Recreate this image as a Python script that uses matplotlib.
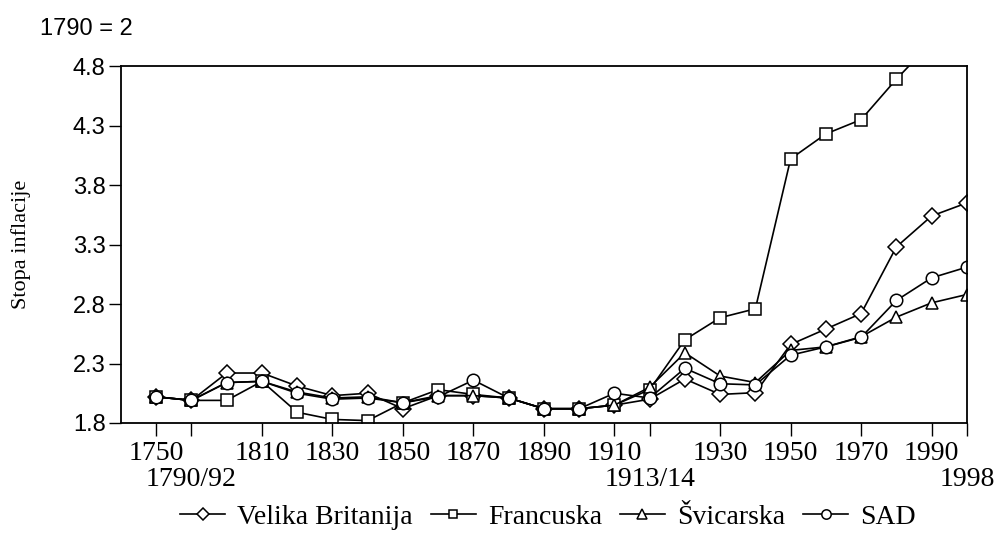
import matplotlib
matplotlib.use("Agg")
import matplotlib.pyplot as plt
import matplotlib.transforms as mtransforms
import numpy as np

periods = ["1750", "1790/92", "1800", "1810", "1820", "1830", "1840", "1850",
           "1860", "1870", "1880", "1890", "1900", "1910", "1913/14", "1920",
           "1930", "1940", "1950", "1960", "1970", "1980", "1990", "1998"]

velika_britanija = [2.02, 1.99, 2.22, 2.22, 2.11, 2.03, 2.05, 1.92, 2.03, 2.03, 2.01, 1.92,
                    1.92, 1.95, 2.00, 2.17, 2.04, 2.055, 2.46, 2.59, 2.72, 3.28, 3.54, 3.65]
francuska = [2.02, 1.99, 1.99, 2.15, 1.89, 1.83, 1.82, 1.97, 2.08, 2.04, 2.01, 1.92,
             1.92, 1.95, 2.08, 2.50, 2.685, 2.76, 4.02, 4.23, 4.35, 4.69, 5.0, 5.3]
svicarska = [2.02, 1.99, 2.14, 2.15, 2.06, 2.01, 2.02, 1.97, 2.03, 2.03, 2.01, 1.92,
             1.92, 1.95, 2.10, 2.39, 2.195, 2.14, 2.41, 2.44, 2.525, 2.69, 2.81, 2.88]
sad = [2.02, 1.99, 2.14, 2.15, 2.05, 2.00, 2.01, 1.97, 2.02, 2.16, 2.01, 1.92,
       1.92, 2.05, 2.01, 2.26, 2.13, 2.12, 2.37, 2.44, 2.52, 2.83, 3.02, 3.11]

series_names = ["Velika Britanija", "Francuska", "Švicarska", "SAD"]
yticks = [1.8, 2.3, 2.8, 3.3, 3.8, 4.3, 4.8]
first_row = ["1750", "1810", "1830", "1850", "1870", "1890", "1910",
             "1930", "1950", "1970", "1990"]
second_row = ["1790/92", "1913/14", "1998"]

serif = ["Liberation Serif", "DejaVu Serif"]
sans = ["Liberation Sans", "DejaVu Sans"]

fig = plt.figure(figsize=(10.04, 5.33), dpi=100)
ax = fig.add_axes([0.1205, 0.2064, 0.8425, 0.6696])

x = np.arange(len(periods))
markers = ["D", "s", "^", "o"]
msizes = [8, 8, 9, 9]
for vals, m, ms, name in zip([velika_britanija, francuska, svicarska, sad], markers, msizes, series_names):
    ax.plot(x, vals, color="black", linewidth=1.2, marker=m, markersize=ms,
            markerfacecolor="white", markeredgecolor="black", markeredgewidth=1.1,
            label=name)

ax.set_xlim(-1, len(periods) - 1)
ax.set_ylim(1.8, 4.8)
ax.set_yticks(yticks)
ax.set_yticklabels([f"{v:.1f}" for v in yticks], fontfamily=sans, fontsize=17)

tick_periods = first_row + second_row
tpos = sorted(periods.index(p) for p in tick_periods)
ax.set_xticks(tpos)
ax.set_xticklabels([])
ax.tick_params(axis="both", direction="out", length=9, width=1.0, color="black")
ax.tick_params(axis="y", pad=2)
for s in ax.spines.values():
    s.set_linewidth(1.3)
    s.set_color("black")

trans = mtransforms.blended_transform_factory(ax.transData, ax.transAxes)
for p in first_row:
    ax.text(periods.index(p), -0.1036, p, transform=trans, ha="center", va="baseline",
            fontfamily=serif, fontsize=20)
for p in second_row:
    ax.text(periods.index(p), -0.1765, p, transform=trans, ha="center", va="baseline",
            fontfamily=serif, fontsize=20)

fig.text(0.021, 0.541, "Stopa inflacije", rotation=90, ha="center", va="center",
         fontfamily=serif, fontsize=16)
fig.text(0.1325, 0.934, "1790 = 2", fontfamily=sans, fontsize=17, ha="right", va="baseline")

leg = fig.legend(loc="center", bbox_to_anchor=(0.546, 0.03), ncol=4, frameon=False,
                 prop={"family": serif, "size": 20}, handlelength=1.6, handletextpad=0.45,
                 columnspacing=0.65, markerscale=0.75)

fig.savefig("out.png", dpi=100)
